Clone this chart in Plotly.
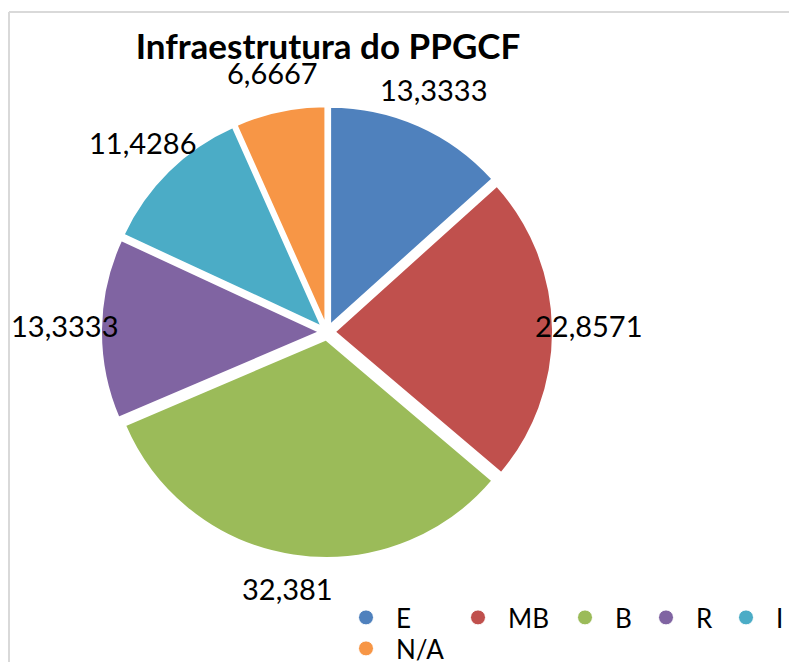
import math
import plotly.graph_objects as go

W, H = 789, 662

categories = ["E", "MB", "B", "R", "I", "N/A"]
values = [13.3333, 22.8571, 32.381, 13.3333, 11.4286, 6.6667]
colors = ["#4F81BD", "#C0504D", "#9BBB59", "#8064A2", "#4BACC6", "#F79646"]
title_text = "Infraestrutura do PPGCF"

FONT = "Lato, 'Noto Sans', sans-serif"

# pie geometry (pixels)
cx, cy, ext = 327, 332, 226
pull = 0.035
label_r = 262
label_dy = -3


def px_x(x):
    return x / W


def px_y(y):
    return 1 - y / H


def fmt(v):
    s = f"{v:.4f}".rstrip("0").rstrip(".")
    return s.replace(".", ",")


fig = go.Figure()
fig.add_trace(go.Pie(
    labels=categories,
    values=values,
    sort=False,
    direction="clockwise",
    rotation=0,
    pull=[pull] * len(values),
    marker=dict(colors=colors, line=dict(color="white", width=2)),
    textinfo="none",
    hoverinfo="label+value",
    showlegend=False,
    domain=dict(x=[px_x(cx - ext), px_x(cx + ext)],
                y=[px_y(cy + ext), px_y(cy - ext)]),
))

# data labels placed at mid-angle of each slice
total = sum(values)
acc = 0.0
annotations = []
for cat, v in zip(categories, values):
    mid = (acc + v / 2) / total * 2 * math.pi
    acc += v
    lx = cx + label_r * math.sin(mid)
    ly = cy + label_dy - label_r * math.cos(mid)
    annotations.append(dict(
        x=px_x(lx), y=px_y(ly), xref="paper", yref="paper",
        text=fmt(v), showarrow=False, xanchor="center", yanchor="middle",
        font=dict(family=FONT, size=29, color="black"),
    ))

# legend entries with circle markers (one legend box per entry position)
legend_of = ["legend", "legend2", "legend3", "legend4", "legend5", "legend6"]
for cat, col, lg in zip(categories, colors, legend_of):
    fig.add_trace(go.Scatter(
        x=[None], y=[None], mode="markers", name=cat,
        marker=dict(symbol="circle", size=15, color=col,
                    line=dict(color="white", width=1)),
        legend=lg, showlegend=True, hoverinfo="skip",
    ))

leg_font = dict(family=FONT, size=26, color="black")
leg_common = dict(font=leg_font, bgcolor="rgba(0,0,0,0)", xanchor="left",
                  yanchor="top", orientation="v", tracegroupgap=0,
                  itemwidth=50)
top = 594
row2 = top + 31
lx0 = 336
fig.update_layout(
    width=W, height=H,
    margin=dict(l=0, r=0, t=0, b=0, autoexpand=False),
    paper_bgcolor="white", plot_bgcolor="white",
    title=dict(text=f"<b>{title_text}</b>", x=px_x(328), y=px_y(47),
               xanchor="center", yanchor="middle",
               font=dict(family=FONT, size=35, color="black")),
    xaxis=dict(visible=False), yaxis=dict(visible=False),
    annotations=annotations,
    legend=dict(x=px_x(lx0), y=px_y(top), **leg_common),
    legend2=dict(x=px_x(lx0 + 112), y=px_y(top), **leg_common),
    legend3=dict(x=px_x(lx0 + 219), y=px_y(top), **leg_common),
    legend4=dict(x=px_x(lx0 + 300), y=px_y(top), **leg_common),
    legend5=dict(x=px_x(lx0 + 380), y=px_y(top), **leg_common),
    legend6=dict(x=px_x(lx0), y=px_y(row2), **leg_common),
    shapes=[
        dict(type="line", xref="paper", yref="paper",
             x0=px_x(9), y0=px_y(12), x1=1.0, y1=px_y(12),
             line=dict(color="#D9D9D9", width=2), layer="below"),
        dict(type="line", xref="paper", yref="paper",
             x0=px_x(9), y0=px_y(12), x1=px_x(9), y1=0.0,
             line=dict(color="#D9D9D9", width=2), layer="below"),
    ],
    showlegend=True,
)

fig.write_html("out.html", config={"displayModeBar": False})

# remove the browser's default body margin so the figure fills the window
with open("out.html", encoding="utf-8") as f:
    html = f.read()
html = html.replace("<body>", '<body style="margin:0;overflow:hidden">', 1)
with open("out.html", "w", encoding="utf-8") as f:
    f.write(html)
